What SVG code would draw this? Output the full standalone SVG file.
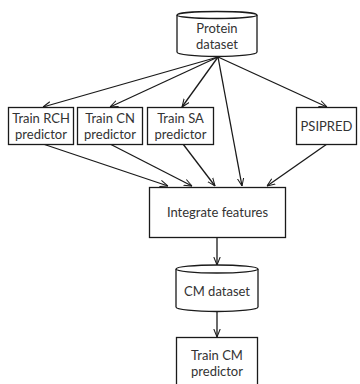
<svg xmlns="http://www.w3.org/2000/svg" width="360" height="384" viewBox="0 0 360 384">
<defs>
<marker id="arr" viewBox="0 0 10 10" refX="10" refY="5" markerWidth="8" markerHeight="8" markerUnits="userSpaceOnUse" orient="auto">
<path d="M0,1 L10,5 L0,9" fill="none" stroke="#1a1a1a" stroke-width="1.3"/>
</marker>
<style>
.box{fill:#fff;stroke:#1a1a1a;stroke-width:1.3}
.t{font-family:Lato,"Liberation Sans",sans-serif;font-size:13px;fill:#333;text-anchor:middle}
.c line{stroke:#1a1a1a;stroke-width:1.3;marker-end:url(#arr)}
</style>
</defs>
<rect width="360" height="384" fill="#fff"/>
<g class="c" id="connectors">
<line x1="218" y1="57" x2="43" y2="107"/>
<line x1="218" y1="57" x2="110" y2="107"/>
<line x1="218" y1="57" x2="182" y2="107"/>
<line x1="218" y1="57" x2="242" y2="186"/>
<line x1="218" y1="57" x2="327" y2="107"/>
<line x1="43" y1="144" x2="168" y2="186"/>
<line x1="110" y1="144" x2="192" y2="186"/>
<line x1="183" y1="144" x2="215" y2="186"/>
<line x1="327" y1="144" x2="267" y2="186"/>
<line x1="217" y1="237" x2="217" y2="265"/>
<line x1="217" y1="312" x2="217" y2="337"/>
</g>
<g id="protein">
<path class="box" d="M177,15 L177,52 A40,4.5 0 0 0 257,52 L257,15"/>
<ellipse class="box" cx="217" cy="15" rx="40" ry="3.5"/>
<text class="t" x="217" y="33">Protein</text>
<text class="t" x="217" y="49">dataset</text>
</g>
<g id="rch">
<rect class="box" x="8.5" y="107.5" width="65" height="37"/>
<text class="t" x="41" y="123">Train RCH</text>
<text class="t" x="41" y="139">predictor</text>
</g>
<g id="cn">
<rect class="box" x="77.5" y="107.5" width="65" height="37"/>
<text class="t" x="110" y="123">Train CN</text>
<text class="t" x="110" y="139">predictor</text>
</g>
<g id="sa">
<rect class="box" x="147.5" y="107.5" width="66" height="37"/>
<text class="t" x="180.5" y="123">Train SA</text>
<text class="t" x="180.5" y="139">predictor</text>
</g>
<g id="psipred">
<rect class="box" x="296.5" y="107.5" width="60" height="37"/>
<text class="t" x="326.5" y="131">PSIPRED</text>
</g>
<g id="integrate">
<rect class="box" x="149.5" y="187.5" width="136" height="50"/>
<text class="t" x="217.5" y="217">Integrate features</text>
</g>
<g id="cm">
<path class="box" d="M176,269 L176,307 A41,4.5 0 0 0 258,307 L258,269"/>
<ellipse class="box" cx="217" cy="269" rx="41" ry="4"/>
<text class="t" x="217" y="296">CM dataset</text>
</g>
<g id="traincm">
<rect class="box" x="176.5" y="337.5" width="81" height="48"/>
<text class="t" x="217" y="360">Train CM</text>
<text class="t" x="217" y="376">predictor</text>
</g>
</svg>
